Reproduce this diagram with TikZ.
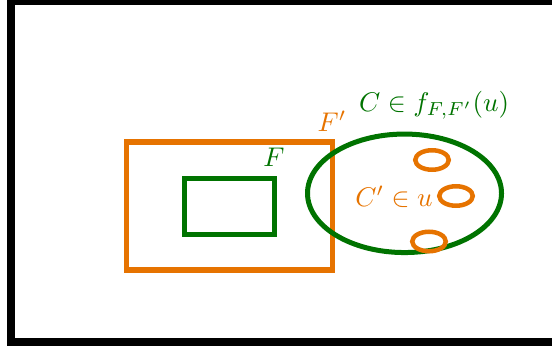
\documentclass[tikz,border=0pt]{standalone}
\usetikzlibrary{shapes.geometric}
\definecolor{myorange}{RGB}{230,115,0}
\definecolor{mygreen}{RGB}{0,115,0}
\begin{document}
\begin{tikzpicture}[x=0.37pt,y=-0.37pt,
  frame/.style={draw=black,line width=8*0.37pt},
  orect/.style={draw=myorange,line width=5.5*0.37pt,rectangle,inner sep=0pt,outer sep=0pt},
  grect/.style={draw=mygreen,line width=5*0.37pt,rectangle,inner sep=0pt,outer sep=0pt},
  gell/.style={draw=mygreen,line width=5*0.37pt,ellipse,inner sep=0pt,outer sep=0pt},
  oell/.style={draw=myorange,line width=4.5*0.37pt,ellipse,inner sep=0pt,outer sep=0pt,minimum width=33.5*0.37pt,minimum height=19.5*0.37pt},
  glab/.style={text=mygreen,inner sep=0pt},
  olab/.style={text=myorange,inner sep=0pt}]
\useasboundingbox (0,0) rectangle (552,351);
\clip (0,0) rectangle (552,351);
\draw[frame] (11,1.5) rectangle (570,342);
\node[orect,minimum width=205.6*0.37pt,minimum height=128*0.37pt] (Fp) at (229.5,206) {};
\node[grect,minimum width=90.4*0.37pt,minimum height=56.4*0.37pt] (F) at (229.5,206.5) {};
\node[gell,minimum width=194*0.37pt,minimum height=118.5*0.37pt] (C) at (404.5,193.3) {};
\node[oell] (e1) at (432,160) {};
\node[oell] (e2) at (456,196) {};
\node[oell] (e3) at (429,241.5) {};
\node[glab] (lF) at (274,157) {$F$};
\node[olab] (lFp) at (332,121) {$F'$};
\node[olab] (lCp) at (394,197) {$C'\in u$};
\node[glab] (lC) at (434,105) {$C\in f_{F,F'}(u)$};
\end{tikzpicture}
\end{document}
